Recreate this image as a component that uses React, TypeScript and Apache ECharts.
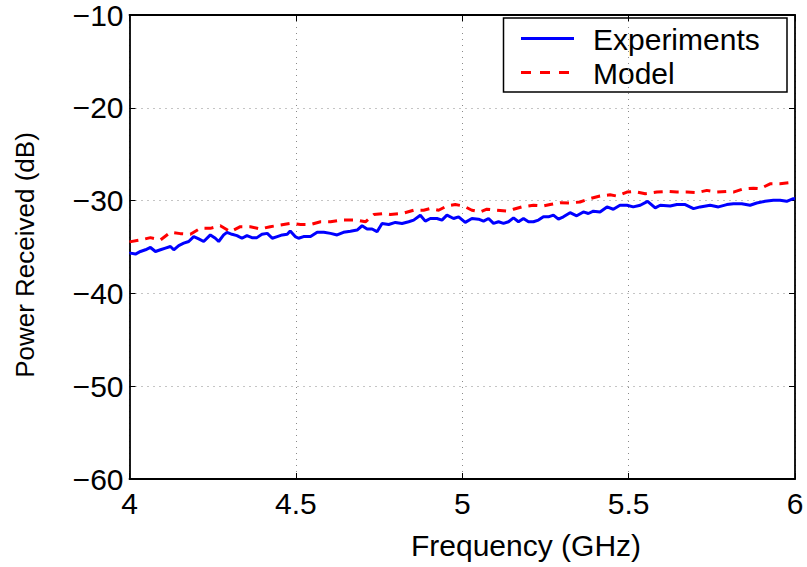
import React, { useEffect, useRef } from "react";
import * as echarts from "echarts";

// Measured received power (blue, solid)
const expFreq = [
  4.0, 4.003, 4.018, 4.033, 4.048, 4.063, 4.078, 4.093, 4.108, 4.123, 4.133, 4.148, 4.163, 4.178,
  4.193, 4.208, 4.223, 4.243, 4.258, 4.268, 4.283, 4.293, 4.308, 4.323, 4.338, 4.353, 4.368,
  4.383, 4.398, 4.414, 4.429, 4.444, 4.459, 4.474, 4.483, 4.498, 4.508, 4.523, 4.544, 4.564,
  4.584, 4.604, 4.624, 4.643, 4.664, 4.684, 4.699, 4.714, 4.729, 4.744, 4.759, 4.779, 4.799,
  4.819, 4.839, 4.854, 4.874, 4.889, 4.904, 4.924, 4.939, 4.954, 4.974, 4.989, 5.009, 5.029,
  5.049, 5.064, 5.079, 5.094, 5.109, 5.124, 5.139, 5.154, 5.169, 5.184, 5.199, 5.214, 5.229,
  5.244, 5.259, 5.274, 5.289, 5.304, 5.324, 5.344, 5.364, 5.379, 5.394, 5.414, 5.435, 5.454,
  5.474, 5.495, 5.514, 5.535, 5.557, 5.58, 5.595, 5.625, 5.645, 5.67, 5.695, 5.715, 5.745,
  5.77, 5.795, 5.815, 5.84, 5.865, 5.885, 5.91, 5.935, 5.955, 5.975, 5.995, 6.0,
];
const expPower = [
  -35.7, -35.66, -35.76, -35.48, -35.3, -35.05, -35.48, -35.3, -35.12, -34.95, -35.3, -34.84,
  -34.59, -34.41, -33.88, -34.13, -34.41, -33.7, -34.06, -34.41, -33.7, -33.42, -33.63, -33.77,
  -34.06, -33.77, -33.99, -33.99, -33.63, -33.53, -34.06, -33.88, -33.7, -33.63, -33.27, -33.88,
  -34.06, -33.88, -33.88, -33.42, -33.42, -33.53, -33.7, -33.42, -33.3, -33.17, -32.71, -33.06,
  -33.06, -33.35, -32.46, -32.57, -32.35, -32.46, -32.28, -32.1, -31.57, -32.21, -31.93, -31.93,
  -32.1, -31.57, -31.93, -31.75, -32.35, -31.93, -32.0, -32.21, -31.93, -32.46, -32.28, -32.46,
  -32.28, -31.86, -32.28, -31.93, -32.28, -32.28, -32.1, -31.75, -31.75, -31.57, -32.0, -31.75,
  -31.3, -31.64, -31.22, -31.39, -31.14, -31.22, -30.68, -30.93, -30.5, -30.5, -30.68, -30.5,
  -30.08, -30.79, -30.5, -30.58, -30.43, -30.43, -30.86, -30.68, -30.5, -30.68, -30.43, -30.33,
  -30.33, -30.5, -30.26, -30.08, -29.97, -29.97, -30.08, -29.79, -29.8,
];

// Model prediction (red, dashed)
const modelFreq = [
  4.0, 4.033, 4.063, 4.093, 4.123, 4.153, 4.183, 4.213, 4.243, 4.273, 4.303, 4.333, 4.363, 4.393,
  4.423, 4.453, 4.483, 4.514, 4.544, 4.574, 4.604, 4.634, 4.664, 4.684, 4.709, 4.734, 4.764,
  4.784, 4.819, 4.854, 4.884, 4.904, 4.929, 4.954, 4.979, 5.004, 5.029, 5.054, 5.074, 5.104,
  5.134, 5.154, 5.179, 5.214, 5.244, 5.264, 5.294, 5.324, 5.354, 5.384, 5.414, 5.444, 5.464,
  5.495, 5.514, 5.55, 5.585, 5.615, 5.645, 5.675, 5.705, 5.735, 5.765, 5.795, 5.815, 5.845,
  5.875, 5.895, 5.925, 5.955, 5.995, 6.0,
];
const modelPower = [
  -34.45, -34.24, -33.99, -34.24, -33.42, -33.56, -33.63, -32.99, -32.99, -32.71, -33.35, -32.81,
  -32.81, -33.06, -32.81, -32.64, -32.46, -32.57, -32.57, -32.28, -32.28, -32.1, -32.1, -32.1,
  -32.28, -31.5, -31.39, -31.5, -31.39, -31.04, -31.04, -30.86, -31.04, -30.58, -30.43, -30.58,
  -31.04, -31.22, -30.93, -31.04, -31.14, -30.93, -30.68, -30.5, -30.58, -30.43, -30.22, -30.25,
  -30.15, -29.79, -29.51, -29.37, -29.51, -29.08, -29.01, -29.26, -29.08, -29.01, -29.08, -29.08,
  -29.15, -28.9, -29.08, -29.01, -29.08, -28.73, -28.66, -28.73, -28.19, -28.19, -28.02, -28.0,
];

const xTicks = [4, 4.5, 5, 5.5, 6];
const yTicks = [-60, -50, -40, -30, -20, -10];

const seriesNames = ["Experiments", "Model"];
const seriesColors = ["#0000ff", "#ff0000"];

const FONT = "'Liberation Sans', Arial, Helvetica, sans-serif";

const zip = (xs: number[], ys: number[]) => xs.map((x, i) => [x, ys[i]]);

export default function App() {
  const ref = useRef<HTMLDivElement>(null);

  useEffect(() => {
    if (!ref.current) return;
    const chart = echarts.init(ref.current, null, { renderer: "svg" });

    const gridLine = {
      show: true,
      lineStyle: { color: "#8a8a8a", width: 1, type: [1, 5] as number[] },
    };
    const boxLine = { show: true, onZero: false, lineStyle: { color: "#000", width: 1.8 } };
    const innerTick = { show: true, inside: true, length: 6, lineStyle: { color: "#000", width: 1 } };

    const xBase = {
      type: "value" as const,
      min: xTicks[0],
      max: xTicks[xTicks.length - 1],
      interval: 0.5,
      axisLine: boxLine,
      axisTick: innerTick,
    };
    const yBase = {
      type: "value" as const,
      min: yTicks[0],
      max: yTicks[yTicks.length - 1],
      interval: 10,
      axisLine: boxLine,
      axisTick: innerTick,
    };

    chart.setOption({
      animation: false,
      backgroundColor: "#ffffff",
      grid: { left: 129.5, right: 12, top: 10, bottom: 88, containLabel: false },
      xAxis: [
        {
          ...xBase,
          position: "bottom",
          splitLine: gridLine,
          axisLabel: {
            show: true,
            color: "#000",
            fontFamily: FONT,
            fontSize: 30,
            margin: 9,
            formatter: (v: number) => String(v),
          },
        },
        {
          ...xBase,
          position: "top",
          splitLine: { show: false },
          axisLabel: { show: false },
        },
      ],
      yAxis: [
        {
          ...yBase,
          position: "left",
          splitLine: gridLine,
          axisLabel: {
            show: true,
            color: "#000",
            fontFamily: FONT,
            fontSize: 30,
            margin: 6,
            formatter: (v: number) => (v < 0 ? "\u2212" + Math.abs(v) : String(v)),
          },
        },
        {
          ...yBase,
          position: "right",
          splitLine: { show: false },
          axisLabel: { show: false },
        },
      ],
      series: [
        {
          name: seriesNames[0],
          type: "line",
          data: zip(expFreq, expPower),
          showSymbol: false,
          symbol: "none",
          lineStyle: { color: seriesColors[0], width: 3 },
          z: 3,
        },
        {
          name: seriesNames[1],
          type: "line",
          data: zip(modelFreq, modelPower),
          showSymbol: false,
          symbol: "none",
          lineStyle: { color: seriesColors[1], width: 3, type: [9, 7] },
          z: 4,
        },
      ],
      graphic: [
        {
          type: "text",
          left: 411,
          top: 530,
          style: { text: "Frequency (GHz)", fill: "#000", font: `30px ${FONT}` },
        },
        {
          type: "text",
          x: 12,
          y: 255,
          rotation: Math.PI / 2,
          style: {
            text: "Power Received (dB)",
            fill: "#000",
            font: `26px ${FONT}`,
            align: "center",
            verticalAlign: "top",
          },
        },
        {
          type: "group",
          z: 10,
          children: [
            {
              type: "rect",
              shape: { x: 503.5, y: 18, width: 283.5, height: 74 },
              style: { fill: "#fff", stroke: "#000", lineWidth: 1.5 },
            },
            {
              type: "line",
              shape: { x1: 521, y1: 38.5, x2: 574, y2: 38.5 },
              style: { stroke: seriesColors[0], lineWidth: 3 },
            },
            {
              type: "line",
              shape: { x1: 521, y1: 72.5, x2: 574, y2: 72.5 },
              style: { stroke: seriesColors[1], lineWidth: 3, lineDash: [10, 9] },
            },
            {
              type: "text",
              x: 593,
              y: 39,
              style: { text: seriesNames[0], fill: "#000", font: `30px ${FONT}`, verticalAlign: "middle" },
            },
            {
              type: "text",
              x: 593,
              y: 73,
              style: { text: seriesNames[1], fill: "#000", font: `30px ${FONT}`, verticalAlign: "middle" },
            },
          ],
        },
      ],
    });

    return () => chart.dispose();
  }, []);

  return (
    <div
      ref={ref}
      style={{ position: "absolute", left: 0, top: 0, width: 807, height: 567 }}
    />
  );
}
